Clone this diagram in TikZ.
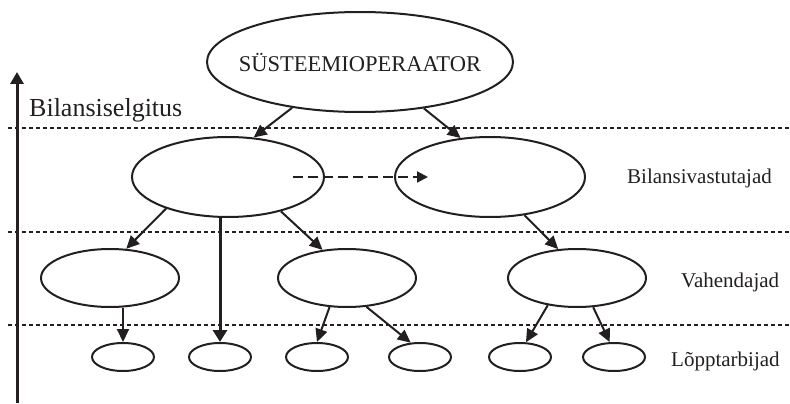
\documentclass[tikz,border=0pt]{standalone}
\usepackage{fontspec}
\setmainfont{Liberation Serif}
\usetikzlibrary{arrows.meta,calc,shapes.geometric}
\definecolor{ink}{HTML}{231F20}
\tikzset{
  oval/.style={ellipse, draw=ink, line width=2pt, inner sep=0pt},
  bigoval/.style={oval, minimum width=192pt, minimum height=80pt},
  midoval/.style={oval, minimum width=138pt, minimum height=58pt},
  smalloval/.style={oval, minimum width=62pt, minimum height=28pt},
  link/.style={draw=ink, line width=2pt, -{Triangle[length=13pt,width=12pt]}},
  level/.style={draw=ink, line width=1.5pt, dash pattern=on 3.5pt off 3.5pt},
  tag/.style={text=ink, font=\fontsize{21}{24}\selectfont, anchor=base west, inner sep=0pt},
}
\begin{document}
\begin{tikzpicture}[x=1pt, y=-1pt]
  \useasboundingbox (0,0) rectangle (790,404);

  % level separators
  \draw[level] (8,128) -- (790,128);
  \draw[level] (8,232) -- (790,232);
  \draw[level] (8,325) -- (790,325);

  % vertical axis
  \coordinate (axbot) at (17,403);
  \coordinate (axtop) at (17,72);
  \draw[draw=ink, line width=3pt, -{Triangle[length=12pt,width=13pt]}] (axbot) -- (axtop);
  \node[text=ink, font=\fontsize{26}{30}\selectfont, anchor=base west, inner sep=0pt] (axlabel) at (29,117) {Bilansiselgitus};

  % system operator
  \node[oval, minimum width=306pt, minimum height=100pt] (so) at (360,62) {};
  \node[text=ink, font=\fontsize{22.5}{26}\selectfont, anchor=base, inner sep=0pt] (sotext) at (360,71) {SÜSTEEMIOPERAATOR};

  % balance responsible parties
  \node[bigoval] (bl) at (228,177) {};
  \node[bigoval, minimum width=190pt] (br) at (490,177) {};

  % intermediaries
  \node[midoval] (v1) at (110,278) {};
  \node[midoval] (v2) at (347,278) {};
  \node[midoval] (v3) at (577,278) {};

  % end consumers
  \node[smalloval] (c1) at (123,357) {};
  \node[smalloval] (c2) at (220,357) {};
  \node[smalloval] (c3) at (317,357) {};
  \node[smalloval] (c4) at (420,357) {};
  \node[smalloval] (c5) at (520,357) {};
  \node[smalloval] (c6) at (614,357) {};

  % level names
  \node[tag] (t1) at (627,183) {Bilansivastutajad};
  \node[tag] (t2) at (681,287) {Vahendajad};
  \node[tag] (t3) at (671,366) {Lõpptarbijad};

  % connectors
  \draw[link] (so.214) -- (bl.57);
  \draw[link] (so.324) -- (br.127);
  \draw[link] (bl.207) -- (v1.61);
  \draw[link] (bl.327) -- (v2.131);
  \draw[link, line width=3pt, -{Triangle[length=12pt,width=14pt]}] (c2.north |- bl.south) -- (c2.north);
  \draw[link] (v1.south -| c1.north) -- (c1.north);
  \draw[link] (v2.239) -- (c3.north);
  \draw[link] (v2.304) -- (c4.123);
  \draw[link] (br.312) -- (v3.123);
  \draw[link] (v3.223) -- (c5.68);
  \draw[link] (v3.299) -- (c6.106);

  % dashed link between the two parties
  \coordinate (ds) at ($(bl.center)+(65,0)$);
  \coordinate (de) at ($(br.center)+(-62,0)$);
  \draw[draw=ink, line width=2pt, dash pattern=on 10pt off 5pt, -{Triangle[length=11pt,width=11pt]}] (ds) -- (de);
\end{tikzpicture}
\end{document}
